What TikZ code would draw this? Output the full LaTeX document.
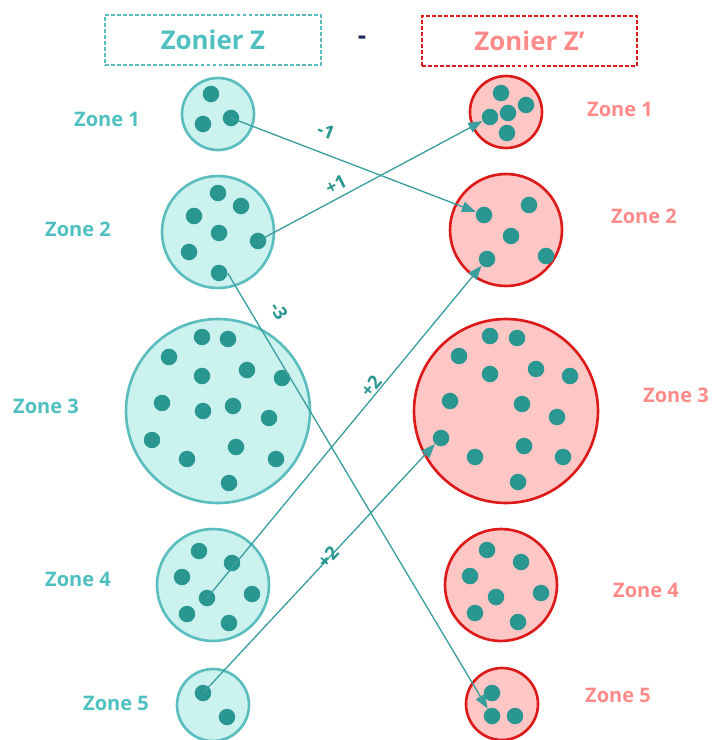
\documentclass[tikz,border=0pt]{standalone}
\usepackage{fontspec}
\setmainfont{Open Sans}
\usetikzlibrary{arrows.meta}
\definecolor{tealtxt}{HTML}{4FBFBF}
\definecolor{tealbd}{HTML}{5BBDBD}
\definecolor{tealfill}{HTML}{CCF2F0}
\definecolor{redtxt}{HTML}{FF8A8A}
\definecolor{redbd}{HTML}{DD1A1A}
\definecolor{redfill}{HTML}{FFC6C6}
\definecolor{dotc}{HTML}{299690}
\definecolor{arrc}{HTML}{3A9E9E}
\definecolor{navy}{HTML}{1F2A5C}
\tikzset{
  x=0.02cm, y=-0.02cm,
  hdrL/.style={draw=tealbd, line width=0.8pt, dash pattern=on 2.2pt off 1.2pt, text=tealtxt,
    font=\fontsize{14.7}{16}\selectfont\bfseries, minimum width=4.32cm, minimum height=1.0cm, inner sep=0},
  hdrR/.style={draw=redbd, line width=0.8pt, dash pattern=on 2.2pt off 1.2pt, text=redtxt,
    font=\fontsize{14.7}{16}\selectfont\bfseries, minimum width=4.3cm, minimum height=1.0cm, inner sep=0},
  zoneL/.style={circle, draw=tealbd, fill=tealfill, line width=1.5pt, inner sep=0},
  zoneR/.style={circle, draw=redbd, fill=redfill, line width=1.5pt, inner sep=0},
  lblL/.style={text=tealtxt, font=\fontsize{11.4}{13}\selectfont\bfseries},
  lblR/.style={text=redtxt, font=\fontsize{11.4}{13}\selectfont\bfseries},
  dot/.style={circle, fill=dotc, minimum size=9.4pt, inner sep=0},
  flow/.style={draw=arrc, line width=0.75pt, -{Triangle[length=8pt,width=6pt]}},
  elbl/.style={text=dotc, font=\fontsize{10.5}{12}\selectfont\bfseries, inner sep=0}
}
\begin{document}
\begin{tikzpicture}
\useasboundingbox (0,0) rectangle (711,740);
% headers
\node[hdrL] (hz) at (213,40) {Zonier Z};
\node[hdrR] (hzp) at (529.5,41) {Zonier Z’};
\node[text=navy, font=\fontsize{14.7}{16}\selectfont\bfseries] (minus) at (362,40) {-};
% left zones
\node[zoneL, minimum size=1.44cm] (L1) at (218,114) {};
\node[zoneL, minimum size=2.24cm] (L2) at (218,232) {};
\node[zoneL, minimum size=3.68cm] (L3) at (218,411) {};
\node[zoneL, minimum size=2.24cm] (L4) at (213,585) {};
\node[zoneL, minimum size=1.44cm] (L5) at (213,705) {};
% right zones
\node[zoneR, minimum size=1.44cm] (R1) at (506,112) {};
\node[zoneR, minimum size=2.24cm] (R2) at (506,230) {};
\node[zoneR, minimum size=3.68cm] (R3) at (506,411) {};
\node[zoneR, minimum size=2.24cm] (R4) at (501,585) {};
\node[zoneR, minimum size=1.44cm] (R5) at (502,704) {};
% labels
\node[lblL] (tL1) at (107,119) {Zone 1};
\node[lblL] (tL2) at (78,229) {Zone 2};
\node[lblL] (tL3) at (46,406) {Zone 3};
\node[lblL] (tL4) at (78,579) {Zone 4};
\node[lblL] (tL5) at (116,703) {Zone 5};
\node[lblR] (tR1) at (620,109) {Zone 1};
\node[lblR] (tR2) at (644,216) {Zone 2};
\node[lblR] (tR3) at (676,395) {Zone 3};
\node[lblR] (tR4) at (646,590) {Zone 4};
\node[lblR] (tR5) at (618,695) {Zone 5};
% dots
\foreach \p [count=\i] in {(211,94),(203,124),(231,118)} \node[dot] (L1-\i) at \p {};
\foreach \p [count=\i] in {(218,193),(241,206),(194,216),(219,233),(258,241),(189,252),(219,273)} \node[dot] (L2-\i) at \p {};
\foreach \p [count=\i] in {(202,337),(228,339),(169,357),(202,376),(247,370),(282,378),(162,403),(203,411),(233,406),(269,418),(152,440),(236,447),(187,459),(276,459),(229,483)} \node[dot] (L3-\i) at \p {};
\foreach \p [count=\i] in {(199,551),(232,563),(182,577),(207,598),(252,594),(187,614),(229,623)} \node[dot] (L4-\i) at \p {};
\foreach \p [count=\i] in {(203,693),(227,717)} \node[dot] (L5-\i) at \p {};
\foreach \p [count=\i] in {(501,93),(526,105),(508,113),(490,117),(507,133)} \node[dot] (R1-\i) at \p {};
\foreach \p [count=\i] in {(484,215),(529,205),(511,236),(487,259),(546,256)} \node[dot] (R2-\i) at \p {};
\foreach \p [count=\i] in {(490,336),(517,338),(459,356),(490,374),(536,369),(570,376),(450,401),(522,404),(557,417),(441,438),(524,446),(475,457),(563,457),(518,482)} \node[dot] (R3-\i) at \p {};
\foreach \p [count=\i] in {(487,550),(521,562),(470,576),(496,597),(541,593),(475,613),(518,622)} \node[dot] (R4-\i) at \p {};
\foreach \p [count=\i] in {(492,693),(492,716),(515,716)} \node[dot] (R5-\i) at \p {};
% flows
\draw[flow] (L1-3.center) -- (R2-1);
\draw[flow] (L2-5.center) -- (R1-4);
\draw[flow] (L2-7.east) -- (R5-2);
\draw[flow] (L4-4.center) -- (R2-4);
\draw[flow] (L5-1.center) -- (R3-10.south west);
% flow labels
\node[elbl, rotate=-21] (f1) at (326,131) {-1};
\node[elbl, rotate=27] (f2) at (336,185) {+1};
\node[elbl, rotate=-58.5] (f3) at (279,311) {-3};
\node[elbl, rotate=50] (f4) at (371,386) {+2};
\node[elbl, rotate=47] (f5) at (328,557) {+2};
\end{tikzpicture}
\end{document}
